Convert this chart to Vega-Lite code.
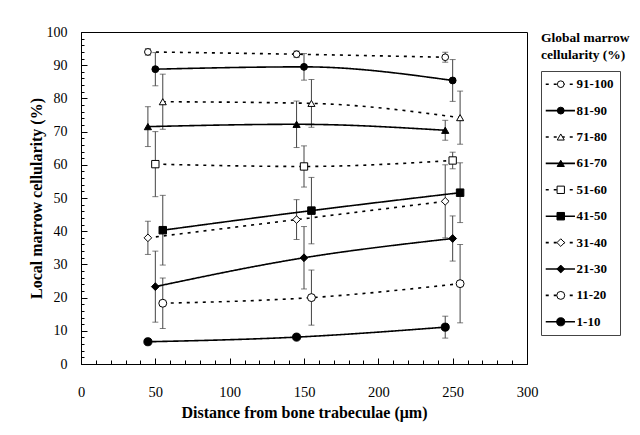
{
  "$schema": "https://vega.github.io/schema/vega-lite/v6.json",
  "padding": {"left": 27, "top": 24, "right": 2, "bottom": 5},
  "background": "white",
  "config": {
    "font": "Liberation Serif",
    "view": {"stroke": "black", "strokeWidth": 1},
    "axis": {
      "labelFont": "Liberation Serif", "labelFontSize": 14, "labelColor": "black",
      "titleFont": "Liberation Serif", "titleFontWeight": "bold", "titleColor": "black",
      "domainColor": "black", "tickColor": "black", "grid": false, "labelFlush": false
    },
    "concat": {"spacing": 0}
  },
  "datasets": {
    "main": [
      {"series": "91-100", "x": 45, "y": 94.0, "err": 1.0},
      {"series": "91-100", "x": 145, "y": 93.3, "err": 1.0},
      {"series": "91-100", "x": 245, "y": 92.4, "err": 1.5},
      {"series": "81-90", "x": 50, "y": 88.8, "err": 5.0},
      {"series": "81-90", "x": 150, "y": 89.5, "err": 4.0},
      {"series": "81-90", "x": 250, "y": 85.4, "err": 6.3},
      {"series": "71-80", "x": 55, "y": 79.0, "err": 8.3},
      {"series": "71-80", "x": 155, "y": 78.5, "err": 7.2},
      {"series": "71-80", "x": 255, "y": 74.2, "err": 8.0},
      {"series": "61-70", "x": 45, "y": 71.5, "err": 6.0},
      {"series": "61-70", "x": 145, "y": 72.2, "err": 7.0},
      {"series": "61-70", "x": 245, "y": 70.4, "err": 3.0},
      {"series": "51-60", "x": 50, "y": 60.2, "err": 9.8},
      {"series": "51-60", "x": 150, "y": 59.5, "err": 6.2},
      {"series": "51-60", "x": 250, "y": 61.3, "err": 2.5},
      {"series": "41-50", "x": 55, "y": 40.3, "err": 10.5},
      {"series": "41-50", "x": 155, "y": 46.2, "err": 10.0},
      {"series": "41-50", "x": 255, "y": 51.6, "err": 9.0},
      {"series": "31-40", "x": 45, "y": 38.0, "err": 5.0},
      {"series": "31-40", "x": 145, "y": 43.5, "err": 6.0},
      {"series": "31-40", "x": 245, "y": 49.0, "err": 11.0},
      {"series": "21-30", "x": 50, "y": 23.3, "err": 10.7},
      {"series": "21-30", "x": 150, "y": 32.0, "err": 9.4},
      {"series": "21-30", "x": 250, "y": 37.8, "err": 6.8},
      {"series": "11-20", "x": 55, "y": 18.3, "err": 7.6},
      {"series": "11-20", "x": 155, "y": 20.0, "err": 8.3},
      {"series": "11-20", "x": 255, "y": 24.2, "err": 11.8},
      {"series": "1-10", "x": 45, "y": 6.7, "err": 0.8},
      {"series": "1-10", "x": 145, "y": 8.1, "err": 0.6},
      {"series": "1-10", "x": 245, "y": 11.1, "err": 3.3}
    ],
    "legend": [
      {"series": "91-100"}, {"series": "81-90"}, {"series": "71-80"}, {"series": "61-70"},
      {"series": "51-60"}, {"series": "41-50"}, {"series": "31-40"}, {"series": "21-30"},
      {"series": "11-20"}, {"series": "1-10"}
    ]
  },
  "hconcat": [
    {
      "width": 446,
      "height": 332,
      "data": {"name": "main"},
      "encoding": {
        "x": {
          "field": "x", "type": "quantitative",
          "scale": {"domain": [0, 300], "nice": false},
          "axis": {
            "title": "Distance from bone trabeculae (μm)",
            "titleFontSize": 16, "titlePadding": 6,
            "values": [0,10,20,30,40,50,60,70,80,90,100,110,120,130,140,150,160,170,180,190,200,210,220,230,240,250,260,270,280,290,300],
            "labelExpr": "datum.value % 50 === 0 ? datum.label : ''",
            "tickSize": {"condition": {"test": "datum.value % 50 === 0", "value": -6}, "value": -4},
            "labelPadding": 27,
            "labelFontSize": 14.5
          }
        },
        "y": {
          "field": "y", "type": "quantitative",
          "scale": {"domain": [0, 100], "nice": false},
          "axis": {
            "title": "Local marrow cellularity (%)",
            "titleFontSize": 16, "titlePadding": 2,
            "values": [0,2,4,6,8,10,12,14,16,18,20,22,24,26,28,30,32,34,36,38,40,42,44,46,48,50,52,54,56,58,60,62,64,66,68,70,72,74,76,78,80,82,84,86,88,90,92,94,96,98,100],
            "labelExpr": "datum.value % 10 === 0 ? datum.label : ''",
            "tickSize": {"condition": {"test": "datum.value % 10 === 0", "value": -6}, "value": -3},
            "labelPadding": 20
          }
        }
      },
      "layer": [
        {
          "mark": {"type": "errorbar", "ticks": {"size": 6, "color": "#444"}, "color": "#444", "thickness": 1},
          "encoding": {"yError": {"field": "err"}}
        },
        {
          "mark": {"type": "line", "color": "black", "strokeWidth": 1.6, "interpolate": "monotone"},
          "encoding": {
            "detail": {"field": "series", "type": "nominal"},
            "strokeDash": {
              "field": "series", "type": "nominal",
              "scale": {
                "domain": ["91-100","81-90","71-80","61-70","51-60","41-50","31-40","21-30","11-20","1-10"],
                "range": [[3,5],[1,0],[3,5],[1,0],[3,5],[1,0],[3,5],[1,0],[3,5],[1,0]]
              },
              "legend": null
            }
          }
        },
        {
          "mark": {"type": "point", "filled": true, "stroke": "black", "strokeWidth": 1, "opacity": 1},
          "encoding": {
            "shape": {
              "field": "series", "type": "nominal",
              "scale": {
                "domain": ["91-100","81-90","71-80","61-70","51-60","41-50","31-40","21-30","11-20","1-10"],
                "range": ["circle","circle","triangle-up","triangle-up","square","square","diamond","diamond","circle","circle"]
              },
              "legend": null
            },
            "fill": {
              "field": "series", "type": "nominal",
              "scale": {
                "domain": ["91-100","81-90","71-80","61-70","51-60","41-50","31-40","21-30","11-20","1-10"],
                "range": ["white","black","white","black","white","black","white","black","white","black"]
              },
              "legend": null
            },
            "size": {
              "field": "series", "type": "nominal",
              "scale": {
                "domain": ["91-100","81-90","71-80","61-70","51-60","41-50","31-40","21-30","11-20","1-10"],
                "range": [45, 65, 60, 55, 55, 60, 45, 35, 55, 55]
              },
              "legend": null
            }
          }
        }
      ]
    },
    {
      "vconcat": [
        {
          "width": 79,
          "height": 1,
          "view": {"stroke": null},
          "title": {
            "text": ["Global marrow", "cellularity (%)"],
            "orient": "bottom", "anchor": "start", "offset": 0, "dy": -2,
            "font": "Liberation Serif", "fontSize": 13.5, "fontWeight": "bold",
            "color": "black", "lineHeight": 17
          },
          "data": {"values": []},
          "mark": "point"
        },
        {
          "width": 79,
          "height": 264,
          "view": {"stroke": "#444", "strokeWidth": 1},
          "data": {"name": "legend"},
          "encoding": {
            "y": {
              "field": "series", "type": "nominal",
              "sort": ["91-100","81-90","71-80","61-70","51-60","41-50","31-40","21-30","11-20","1-10"],
              "axis": null
            }
          },
          "layer": [
            {
              "mark": {"type": "rule", "color": "black", "strokeWidth": 1.6},
              "encoding": {
                "x": {"datum": 6, "type": "quantitative", "scale": {"domain": [0, 100]}, "axis": null},
                "x2": {"datum": 43},
                "strokeDash": {
                  "field": "series", "type": "nominal",
                  "scale": {
                    "domain": ["91-100","81-90","71-80","61-70","51-60","41-50","31-40","21-30","11-20","1-10"],
                    "range": [[3,5],[1,0],[3,5],[1,0],[3,5],[1,0],[3,5],[1,0],[3,5],[1,0]]
                  },
                  "legend": null
                }
              }
            },
            {
              "mark": {"type": "point", "filled": true, "stroke": "black", "strokeWidth": 1, "opacity": 1},
              "encoding": {
                "x": {"datum": 25, "type": "quantitative", "scale": {"domain": [0, 100]}, "axis": null},
                "shape": {
                  "field": "series", "type": "nominal",
                  "scale": {
                    "domain": ["91-100","81-90","71-80","61-70","51-60","41-50","31-40","21-30","11-20","1-10"],
                    "range": ["circle","circle","triangle-up","triangle-up","square","square","diamond","diamond","circle","circle"]
                  },
                  "legend": null
                },
                "fill": {
                  "field": "series", "type": "nominal",
                  "scale": {
                    "domain": ["91-100","81-90","71-80","61-70","51-60","41-50","31-40","21-30","11-20","1-10"],
                    "range": ["white","black","white","black","white","black","white","black","white","black"]
                  },
                  "legend": null
                },
                "size": {
                  "field": "series", "type": "nominal",
                  "scale": {
                    "domain": ["91-100","81-90","71-80","61-70","51-60","41-50","31-40","21-30","11-20","1-10"],
                    "range": [45, 65, 60, 55, 55, 60, 45, 35, 55, 55]
                  },
                  "legend": null
                }
              }
            },
            {
              "mark": {"type": "text", "align": "left", "baseline": "middle", "font": "Liberation Serif", "fontWeight": "bold", "fontSize": 13, "color": "black"},
              "encoding": {
                "x": {"datum": 45, "type": "quantitative", "scale": {"domain": [0, 100]}, "axis": null},
                "text": {"field": "series", "type": "nominal"}
              }
            }
          ]
        }
      ],
      "spacing": 8
    }
  ],
  "spacing": 1
}
